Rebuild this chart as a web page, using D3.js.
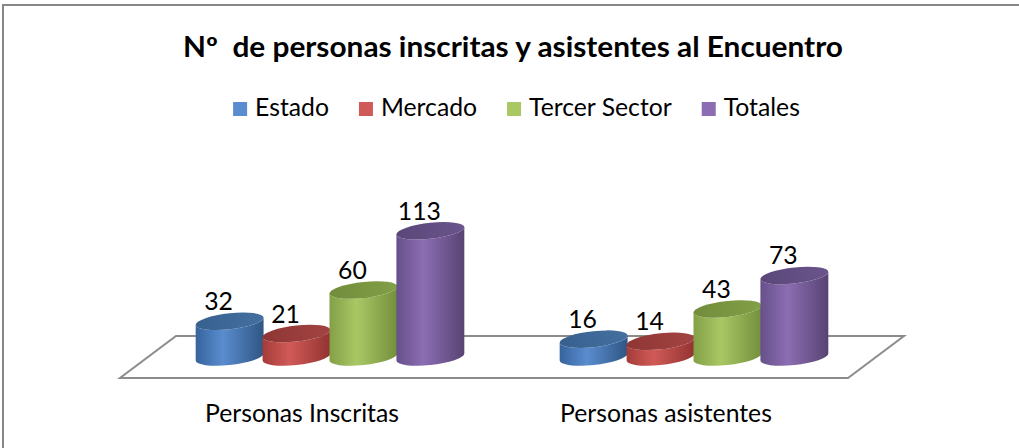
<!DOCTYPE html>
<html>
<head>
<meta charset="utf-8">
<script src="https://cdn.jsdelivr.net/npm/d3@7"></script>
<style>
  body { margin: 0; background: #fff; }
  text { font-family: Lato, "Open Sans", sans-serif; fill: #000; white-space: pre; }
</style>
</head>
<body>
<svg id="chart"></svg>
<script>
// Chart data
const categories = ["Personas Inscritas", "Personas asistentes"];
const series = ["Estado", "Mercado", "Tercer Sector", "Totales"];
const estado = [32, 16];
const mercado = [21, 14];
const tercerSector = [60, 43];
const totales = [113, 73];
const title = "Nº  de personas inscritas y asistentes al Encuentro";

const values = { "Estado": estado, "Mercado": mercado, "Tercer Sector": tercerSector, "Totales": totales };

// Colours per series: side gradient (dark, light, darker) and top
const colors = {
    "Estado":        { side: ["#36639c", "#5a8dcf", "#2f5684"], top: ["#37608f", "#44709f"] },
    "Mercado":       { side: ["#a43c39", "#d05a57", "#923331"], top: ["#8f3634", "#a24442"] },
    "Tercer Sector": { side: ["#83a047", "#a9c864", "#748f3d"], top: ["#728c3c", "#82a046"] },
    "Totales":       { side: ["#66508a", "#8c6db3", "#574373"], top: ["#5a4778", "#6a558c"] }
};

const width = 1019;
const height = 448;

// Floor geometry: baseline in the middle of the floor depth
const baseY = 357;
const depth = { dx: 28, dy: 21 };
const ry = 8;

const svg = d3.select("#chart")
    .attr("width", width)
    .attr("height", height);

// Outer frame (only top and left edges fall inside the picture)
svg.append("rect")
    .attr("x", 3).attr("y", 5)
    .attr("width", width + 20).attr("height", height + 20)
    .attr("fill", "none")
    .attr("stroke", "#878787")
    .attr("stroke-width", 2);

// Scales
const x0 = d3.scaleBand()
    .domain(categories)
    .range([148, 876]);

const x1 = d3.scaleBand()
    .domain(series)
    .range([0, x0.bandwidth()])
    .paddingOuter(0.72);

const y = d3.scaleLinear()
    .domain([0, 120])
    .range([baseY, baseY - 134]);

// Gradients
const defs = svg.append("defs");
series.forEach((s, i) => {
    const side = defs.append("linearGradient")
        .attr("id", "side" + i)
        .attr("x1", 0).attr("x2", 1).attr("y1", 0).attr("y2", 0);
    side.append("stop").attr("offset", "0%").attr("stop-color", colors[s].side[0]);
    side.append("stop").attr("offset", "40%").attr("stop-color", colors[s].side[1]);
    side.append("stop").attr("offset", "100%").attr("stop-color", colors[s].side[2]);

    const top = defs.append("linearGradient")
        .attr("id", "top" + i)
        .attr("x1", 0).attr("x2", 1).attr("y1", 0).attr("y2", 0);
    top.append("stop").attr("offset", "0%").attr("stop-color", colors[s].top[0]);
    top.append("stop").attr("offset", "100%").attr("stop-color", colors[s].top[1]);
});

// Floor
const [r0, r1] = x0.range();
const floorPts = [
    [r0 - depth.dx, baseY + depth.dy],
    [r1 - depth.dx, baseY + depth.dy],
    [r1 + depth.dx, baseY - depth.dy],
    [r0 + depth.dx, baseY - depth.dy]
];
svg.append("polygon")
    .attr("points", floorPts.map(p => p.join(",")).join(" "))
    .attr("fill", "#fff")
    .attr("stroke", "#8c8c8c")
    .attr("stroke-width", 2);

// Build flat list of cylinders
const cyl = [];
categories.forEach((c, ci) => {
    series.forEach((s, si) => {
        cyl.push({ category: c, series: s, si: si, value: values[s][ci] });
    });
});

const rx = x1.bandwidth() / 2 + 0.5;
const tilt = -6;

const bars = svg.append("g").selectAll("g.cyl")
    .data(cyl)
    .join("g")
    .attr("class", "cyl")
    .attr("transform", d => `translate(${x0(d.category) + x1(d.series) + x1.bandwidth() / 2},0) skewY(${tilt})`);

bars.append("path")
    .attr("fill", d => `url(#side${d.si})`)
    .attr("d", d => {
        const yt = y(d.value);
        return `M${-rx},${yt} L${-rx},${baseY} A${rx},${ry} 0 0 0 ${rx},${baseY} L${rx},${yt} A${rx},${ry} 0 0 1 ${-rx},${yt} Z`;
    });

bars.append("ellipse")
    .attr("cx", 0)
    .attr("cy", d => y(d.value))
    .attr("rx", rx)
    .attr("ry", ry)
    .attr("fill", d => `url(#top${d.si})`);

// Helper: scale font so the text has the given width
function fitWidth(sel, target) {
    const w = sel.node().getComputedTextLength();
    const fs = parseFloat(sel.attr("font-size"));
    const size = fs * target / w;
    sel.attr("font-size", size);
    return size;
}

// Category labels on the front edge of the floor
const catLabels = svg.append("g").selectAll("text")
    .data(categories)
    .join("text")
    .attr("x", d => x0(d) + x0.bandwidth() / 2 - depth.dx)
    .attr("y", 422)
    .attr("text-anchor", "middle")
    .attr("font-size", 20)
    .text(d => d);

const baseSize = fitWidth(catLabels.filter((d, i) => i === 0), 194);
catLabels.attr("font-size", baseSize);

// Value labels
svg.append("g").selectAll("text")
    .data(cyl)
    .join("text")
    .attr("x", d => x0(d.category) + x1(d.series) + x1.bandwidth() / 2 - 11)
    .attr("y", d => y(d.value) - ry - 3)
    .attr("text-anchor", "middle")
    .attr("font-size", baseSize)
    .text(d => d.value);

// Title: Calibri-like proportions, squeezed to the original width
svg.append("text")
    .attr("x", 183)
    .attr("y", 57)
    .attr("font-weight", "bold")
    .attr("font-size", 28)
    .attr("textLength", 660)
    .attr("lengthAdjust", "spacingAndGlyphs")
    .text(title);

// Legend
const legend = svg.append("g");
const sq = 14;
const items = legend.selectAll("g")
    .data(series)
    .join("g");
items.append("rect")
    .attr("width", sq).attr("height", sq)
    .attr("y", 102)
    .attr("fill", d => colors[d].side[1]);
items.append("text")
    .attr("x", sq + 8)
    .attr("y", 116)
    .attr("font-size", baseSize)
    .text(d => d);

let cursor = 0;
const offsets = [];
items.each(function () {
    offsets.push(cursor);
    const tw = d3.select(this).select("text").node().getComputedTextLength();
    cursor += sq + 8 + tw + 30;
});
const total = cursor - 30;
const start = 516.5 - total / 2;
items.attr("transform", (d, i) => `translate(${start + offsets[i]},0)`);
</script>
</body>
</html>
